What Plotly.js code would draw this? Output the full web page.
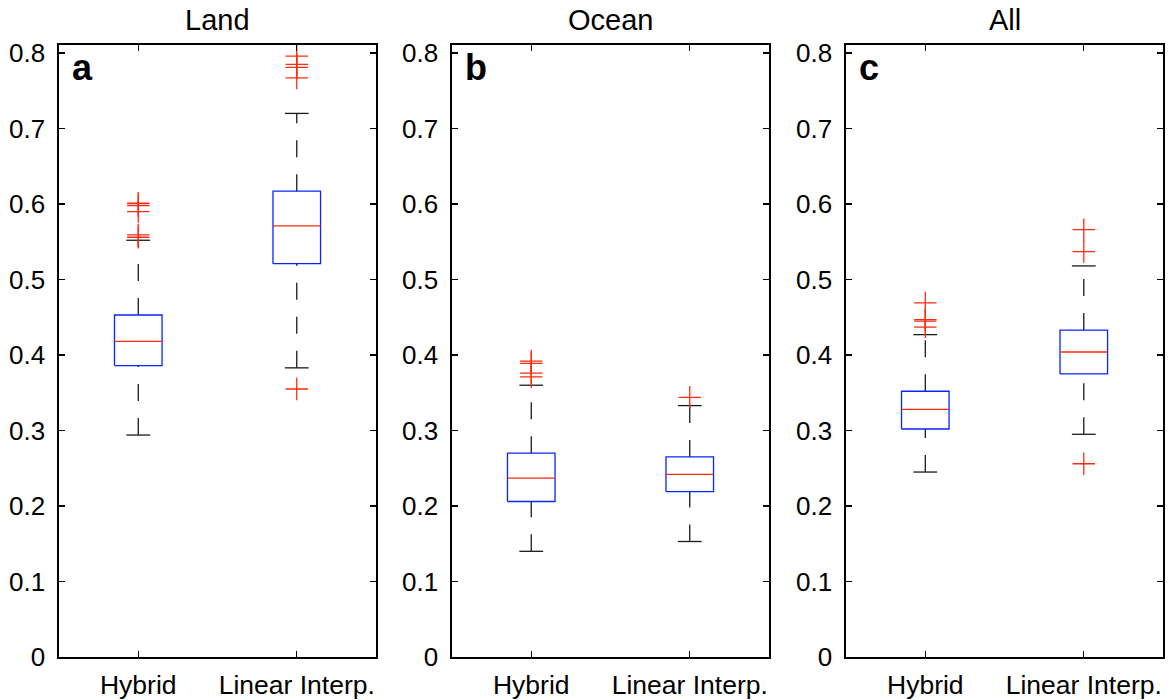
<!DOCTYPE html>
<html>
<head>
<meta charset="utf-8">
<script src="https://cdn.plot.ly/plotly-3.0.1.min.js"></script>
<style>html,body{margin:0;padding:0;background:#fff;}#chart{width:1171px;height:700px;}</style>
</head>
<body>
<div id="chart"></div>
<script>
// ---- data ----
const categories = ['Hybrid', 'Linear Interp.'];
const panelTitles = ['Land', 'Ocean', 'All'];
const panelLetters = ['a', 'b', 'c'];

// Land
const landLowerWhisker = [0.294, 0.383];
const landQ1 = [0.386, 0.521];
const landMedian = [0.418, 0.571];
const landQ3 = [0.453, 0.617];
const landUpperWhisker = [0.552, 0.720];
const landOutliersHybrid = [0.601, 0.598, 0.590, 0.559, 0.556];
const landOutliersLinear = [0.796, 0.785, 0.781, 0.767, 0.355];

// Ocean
const oceanLowerWhisker = [0.140, 0.153];
const oceanQ1 = [0.206, 0.219];
const oceanMedian = [0.237, 0.242];
const oceanQ3 = [0.270, 0.265];
const oceanUpperWhisker = [0.360, 0.333];
const oceanOutliersHybrid = [0.392, 0.389, 0.376, 0.371];
const oceanOutliersLinear = [0.344];

// All
const allLowerWhisker = [0.245, 0.295];
const allQ1 = [0.302, 0.375];
const allMedian = [0.328, 0.404];
const allQ3 = [0.352, 0.433];
const allUpperWhisker = [0.427, 0.518];
const allOutliersHybrid = [0.469, 0.447, 0.445, 0.437];
const allOutliersLinear = [0.566, 0.537, 0.256];

// ---- build ----
const panels = [
  {lo: landLowerWhisker, q1: landQ1, med: landMedian, q3: landQ3, hi: landUpperWhisker, out: [landOutliersHybrid, landOutliersLinear]},
  {lo: oceanLowerWhisker, q1: oceanQ1, med: oceanMedian, q3: oceanQ3, hi: oceanUpperWhisker, out: [oceanOutliersHybrid, oceanOutliersLinear]},
  {lo: allLowerWhisker, q1: allQ1, med: allMedian, q3: allQ3, hi: allUpperWhisker, out: [allOutliersHybrid, allOutliersLinear]}
];

const BOX_HW = 0.15, CAP_HW = 0.075;
const FONT = 'Liberation Sans, Arial, Helvetica, sans-serif';
const traces = [];
const layout = {
  width: 1171, height: 700,
  margin: {l: 0, r: 0, t: 0, b: 0},
  paper_bgcolor: '#fff', plot_bgcolor: '#fff',
  showlegend: false,
  font: {family: FONT, color: '#000', size: 26},
  annotations: []
};
const domainsX = [[0.0504, 0.3211], [0.3860, 0.6567], [0.7225, 0.9932]];
const domainY = [0.0614, 0.9357];

panels.forEach((p, i) => {
  const xa = i === 0 ? 'x' : 'x' + (i + 1);
  const ya = i === 0 ? 'y' : 'y' + (i + 1);
  categories.forEach((cat, j) => {
    const c = j + 1;
    // lower whisker (drawn from cap up to box)
    traces.push({type: 'scatter', mode: 'lines', xaxis: xa, yaxis: ya, hoverinfo: 'skip',
      x: [c, c], y: [p.lo[j], p.q1[j]], line: {color: '#1a1a1a', width: 1.3, dash: '17px,17px'}});
    // upper whisker (drawn from box up to cap)
    traces.push({type: 'scatter', mode: 'lines', xaxis: xa, yaxis: ya, hoverinfo: 'skip',
      x: [c, c], y: [p.q3[j], p.hi[j]], line: {color: '#1a1a1a', width: 1.3, dash: '17px,17px'}});
    // caps
    traces.push({type: 'scatter', mode: 'lines', xaxis: xa, yaxis: ya, hoverinfo: 'skip',
      x: [c - CAP_HW, c + CAP_HW, null, c - CAP_HW, c + CAP_HW],
      y: [p.lo[j], p.lo[j], null, p.hi[j], p.hi[j]],
      line: {color: '#1a1a1a', width: 1.3}});
    // box
    traces.push({type: 'scatter', mode: 'lines', xaxis: xa, yaxis: ya, hoverinfo: 'skip',
      x: [c - BOX_HW, c + BOX_HW, c + BOX_HW, c - BOX_HW, c - BOX_HW],
      y: [p.q1[j], p.q1[j], p.q3[j], p.q3[j], p.q1[j]],
      line: {color: '#0a24ff', width: 1.3}});
    // median
    traces.push({type: 'scatter', mode: 'lines', xaxis: xa, yaxis: ya, hoverinfo: 'skip',
      x: [c - BOX_HW, c + BOX_HW], y: [p.med[j], p.med[j]],
      line: {color: '#ff2a10', width: 1.3}});
    // outliers
    traces.push({type: 'scatter', mode: 'markers', xaxis: xa, yaxis: ya, hoverinfo: 'skip',
      x: p.out[j].map(() => c), y: p.out[j],
      marker: {symbol: 'cross-thin', size: 16, color: '#ff2a10', line: {color: '#ff2a10', width: 1.3}}});
  });

  const xKey = i === 0 ? 'xaxis' : 'xaxis' + (i + 1);
  const yKey = i === 0 ? 'yaxis' : 'yaxis' + (i + 1);
  layout[xKey] = {
    domain: domainsX[i], anchor: ya, range: [0.5, 2.5],
    tickvals: [1, 2], ticktext: categories,
    ticks: 'inside', ticklen: 6, tickwidth: 1.3, tickcolor: '#000',
    showline: true, linecolor: '#000', linewidth: 1.6, mirror: 'ticks',
    showgrid: false, zeroline: false, fixedrange: true,
    tickfont: {family: FONT, size: 26.5, color: '#000'}, ticklabelstandoff: 4
  };
  layout[yKey] = {
    domain: domainY, anchor: xa, range: [0, 0.8106],
    tickvals: [0, 0.1, 0.2, 0.3, 0.4, 0.5, 0.6, 0.7, 0.8],
    ticktext: ['0', '0.1', '0.2', '0.3', '0.4', '0.5', '0.6', '0.7', '0.8'],
    ticks: 'inside', ticklen: 6, tickwidth: 1.3, tickcolor: '#000',
    showline: true, linecolor: '#000', linewidth: 1.6, mirror: 'ticks',
    showgrid: false, zeroline: false, fixedrange: true,
    tickfont: {family: FONT, size: 26, color: '#000'}, ticklabelstandoff: 7
  };
  layout.annotations.push({
    text: panelTitles[i], xref: xa + ' domain', yref: 'paper', x: 0.5, y: 1 - 20 / 700,
    xanchor: 'center', yanchor: 'middle', showarrow: false,
    font: {family: FONT, size: 29, color: '#000'}
  });
  layout.annotations.push({
    text: '<b>' + panelLetters[i] + '</b>', xref: xa + ' domain', yref: ya + ' domain',
    x: 0.035, y: 1.0, xanchor: 'left', yanchor: 'top', showarrow: false,
    font: {family: FONT, size: 36, color: '#000'}
  });
});

Plotly.newPlot('chart', traces, layout, {displayModeBar: false, staticPlot: true});
</script>
</body>
</html>
